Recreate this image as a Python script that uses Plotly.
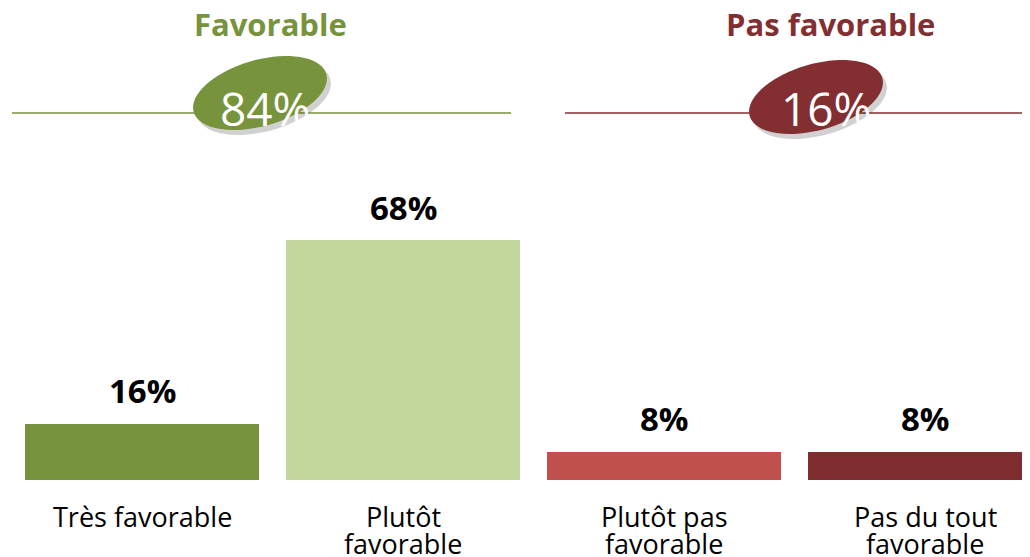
import numpy as np
import plotly.graph_objects as go

categories = ["Très favorable", "Plutôt<br>favorable", "Plutôt pas<br>favorable", "Pas du tout<br>favorable"]
values = [16, 68, 8, 8]
value_labels = ["16%", "68%", "8%", "8%"]
bar_colors = ["#77933C", "#C3D69B", "#C0504D", "#7F2D2F"]

group_titles = ["Favorable", "Pas favorable"]
group_totals = ["84%", "16%"]
group_colors = ["#77933C", "#832F31"]

# page offset (body margin) compensation
OFF = 8
FIG_W, FIG_H = 1030 - OFF, 557 - OFF
B_MARGIN = 77
PLOT_H = FIG_H - B_MARGIN

def px(x):
    return (x - OFF) / FIG_W

def py(y):
    return 1 - (y - OFF) / PLOT_H

fig = go.Figure()
fig.add_trace(go.Bar(
    x=categories, y=values, width=0.897,
    marker=dict(color=bar_colors, line=dict(width=0)),
    hoverinfo="skip",
))

annotations = []
for c, v, t in zip(categories, values, value_labels):
    annotations.append(dict(x=c, y=v, xref="x", yref="y", text=t, showarrow=False,
                            yanchor="middle", yshift=33,
                            font=dict(family="Open Sans", size=33, color="black", weight="bold")))
    for i, line in enumerate(c.split("<br>")):
        annotations.append(dict(x=c, y=0, xref="x", yref="paper", text=line, showarrow=False,
                                yanchor="middle", yshift=-36 - 27 * i,
                                font=dict(family="Open Sans", size=27, color="black")))

shapes = []
header = [
    dict(line=(12, 511), center=(260, 93), title_x=270, pct_x=265),
    dict(line=(565, 1030), center=(816, 97), title_x=830, pct_x=826),
]

def ellipse_path(cx, cy, a, b, ang):
    t = np.linspace(0, 2 * np.pi, 72)
    th = np.deg2rad(ang)
    xs = cx + a * np.cos(t) * np.cos(th) - b * np.sin(t) * np.sin(th)
    ys = cy + a * np.cos(t) * np.sin(th) + b * np.sin(t) * np.cos(th)
    pts = [f"{px(x):.5f},{py(y):.5f}" for x, y in zip(xs, ys)]
    return "M" + " L".join(pts) + " Z"

for h, title, total, col in zip(header, group_titles, group_totals, group_colors):
    x0, x1 = h["line"]
    shapes.append(dict(type="line", xref="paper", yref="paper", x0=px(x0), x1=px(x1),
                       y0=py(113), y1=py(113), line=dict(color=col, width=1.5), layer="above"))
    cx, cy = h["center"]
    shapes.append(dict(type="path", xref="paper", yref="paper",
                       path=ellipse_path(cx + 4, cy + 5, 69, 33, -16),
                       fillcolor="rgba(0,0,0,0.18)", line=dict(width=0), layer="above"))
    shapes.append(dict(type="path", xref="paper", yref="paper",
                       path=ellipse_path(cx, cy, 69, 33, -16),
                       fillcolor=col, line=dict(width=0), layer="above"))
    annotations.append(dict(x=px(h["title_x"]), y=py(24), xref="paper", yref="paper", text=title,
                            showarrow=False, xanchor="center", yanchor="middle",
                            font=dict(family="Open Sans", size=31, color=col, weight="bold")))
    annotations.append(dict(x=px(h["pct_x"]), y=py(108), xref="paper", yref="paper", text=total,
                            showarrow=False, xanchor="center", yanchor="middle",
                            font=dict(family="Open Sans", size=46, color="white")))

bar0_center_px = 142 - OFF
step_px = 261
fig.update_layout(
    width=FIG_W, height=FIG_H,
    margin=dict(l=0, r=0, t=0, b=B_MARGIN),
    paper_bgcolor="white", plot_bgcolor="white",
    showlegend=False,
    xaxis=dict(range=[-bar0_center_px / step_px, (FIG_W - bar0_center_px) / step_px],
               showticklabels=False, showgrid=False, zeroline=False, showline=False, ticks=""),
    yaxis=dict(range=[0, PLOT_H / (240 / 68)], visible=False, showgrid=False, zeroline=False),
    annotations=annotations, shapes=shapes,
    bargap=0,
)
fig.write_html("out.html")
